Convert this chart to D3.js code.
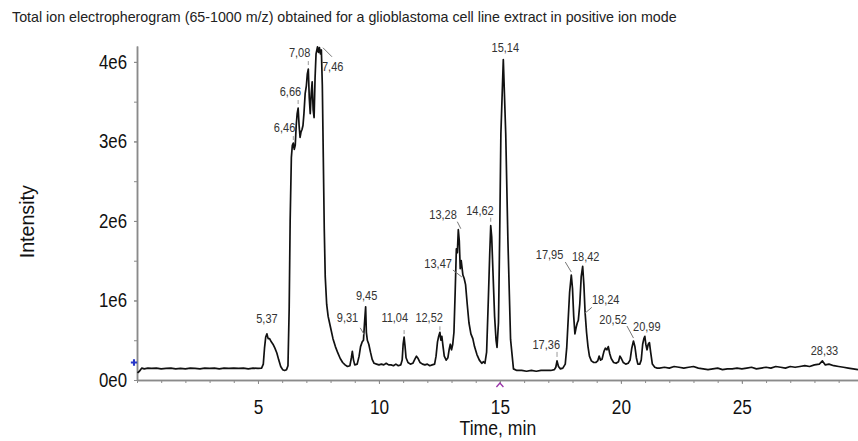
<!DOCTYPE html>
<html><head><meta charset="utf-8">
<script src="https://cdn.jsdelivr.net/npm/d3@7"></script>
<style>
html,body{margin:0;padding:0;background:#fff;}
svg{display:block;font-family:"Liberation Sans",Arial,sans-serif;}
</style></head><body>
<svg id="chart" width="858" height="441"></svg>
<script>
// ---- DATA ----
const chartTitle = "Total ion electropherogram (65-1000 m/z) obtained for a glioblastoma cell line extract in positive ion mode";
const xLabel = "Time, min";
const yLabel = "Intensity";
const xTickValues = [5, 10, 15, 20, 25];
const yTickValues = [0, 1, 2, 3, 4];            // millions
const yTickLabels = ["0e0", "1e6", "2e6", "3e6", "4e6"];

// [time (min), intensity (x1e6)]
const trace = [
[0.02,0.09],[0.1,0.11],[0.2,0.15],[0.3,0.14],[0.45,0.15],[0.6,0.145],[0.8,0.15],[1.0,0.14],[1.2,0.145],[1.4,0.15],[1.6,0.14],[1.8,0.145],[2.0,0.14],[2.2,0.15],[2.4,0.145],[2.6,0.14],[2.8,0.15],[3.0,0.145],[3.2,0.15],[3.4,0.14],[3.6,0.15],[3.8,0.145],[4.0,0.15],[4.2,0.145],[4.4,0.15],[4.6,0.14],[4.8,0.15],[5.0,0.145],[5.15,0.15],
[5.22,0.2],[5.27,0.4],[5.32,0.54],[5.37,0.58],[5.42,0.52],[5.48,0.52],[5.55,0.48],[5.62,0.45],[5.7,0.4],[5.78,0.34],[5.86,0.25],[5.94,0.17],[6.02,0.13],[6.1,0.12],[6.18,0.13],[6.24,0.18],
[6.29,0.9],[6.33,2.0],[6.38,2.8],[6.42,2.95],[6.46,2.98],[6.5,2.9],[6.54,2.95],[6.58,3.2],[6.62,3.35],[6.66,3.42],[6.7,3.2],[6.74,3.05],[6.78,3.12],[6.82,3.15],[6.86,3.2],[6.9,3.35],[6.95,3.6],[7.0,3.7],[7.04,3.85],[7.08,3.91],[7.12,3.55],[7.16,3.35],[7.2,3.6],[7.24,3.75],[7.28,3.4],[7.32,3.3],[7.36,3.8],[7.4,4.1],[7.46,4.19],[7.5,4.12],[7.54,4.18],[7.58,4.1],[7.62,4.15],[7.66,3.7],[7.7,2.8],[7.74,1.9],[7.78,1.3],[7.84,0.95],[7.9,0.8],[8.0,0.66],[8.1,0.52],[8.2,0.42],[8.3,0.34],[8.4,0.27],[8.5,0.22],[8.6,0.19],[8.7,0.17],[8.8,0.18],[8.86,0.28],[8.9,0.36],[8.95,0.25],[9.0,0.19],[9.1,0.2],[9.18,0.3],[9.24,0.42],[9.31,0.48],[9.36,0.5],[9.4,0.7],[9.45,0.92],[9.48,0.6],[9.52,0.5],[9.58,0.45],[9.65,0.35],[9.72,0.26],[9.8,0.21],[9.9,0.2],
[10.0,0.19],[10.1,0.2],[10.2,0.19],[10.3,0.21],[10.4,0.19],[10.5,0.19],[10.6,0.18],[10.7,0.2],[10.8,0.18],[10.9,0.19],[10.96,0.25],[11.0,0.45],[11.04,0.54],[11.08,0.42],[11.12,0.28],[11.2,0.22],[11.3,0.2],[11.4,0.21],[11.48,0.26],[11.55,0.3],[11.62,0.27],[11.7,0.22],[11.8,0.2],[11.9,0.19],[12.0,0.2],[12.1,0.18],[12.2,0.19],[12.3,0.2],[12.36,0.3],[12.42,0.48],[12.47,0.55],[12.52,0.6],[12.56,0.5],[12.6,0.55],[12.65,0.42],[12.7,0.3],[12.78,0.25],[12.85,0.28],[12.9,0.38],[12.95,0.45],[13.0,0.38],[13.05,0.45],[13.1,0.6],[13.15,1.1],[13.2,1.65],[13.24,1.6],[13.28,1.89],[13.32,1.75],[13.36,1.4],[13.4,1.5],[13.47,1.32],[13.52,1.28],[13.58,1.2],[13.65,0.95],[13.72,0.72],[13.8,0.58],[13.88,0.52],[13.95,0.42],[14.05,0.32],[14.15,0.25],[14.25,0.21],[14.32,0.23],[14.38,0.21],[14.45,0.35],[14.52,1.0],[14.58,1.6],[14.62,1.94],[14.66,1.8],[14.72,1.3],[14.78,0.8],[14.84,0.5],[14.88,0.41],[14.94,0.72],[14.99,1.8],[15.04,3.1],[15.14,4.03],[15.24,3.1],[15.33,1.76],[15.44,0.51],[15.56,0.14],
[15.7,0.12],[15.9,0.12],[16.1,0.11],[16.3,0.12],[16.5,0.11],[16.7,0.12],[16.9,0.12],[17.1,0.12],[17.25,0.13],[17.31,0.16],[17.36,0.24],[17.42,0.17],[17.5,0.14],[17.6,0.15],[17.7,0.2],[17.76,0.4],[17.82,0.75],[17.88,1.1],[17.95,1.32],[18.0,1.15],[18.05,0.8],[18.1,0.58],[18.15,0.66],[18.2,0.72],[18.24,0.75],[18.3,0.95],[18.36,1.3],[18.42,1.43],[18.47,1.2],[18.52,0.85],[18.58,0.6],[18.64,0.42],[18.7,0.3],[18.78,0.24],[18.88,0.22],[18.96,0.22],[19.04,0.24],[19.1,0.3],[19.16,0.25],[19.22,0.26],[19.3,0.36],[19.36,0.4],[19.42,0.38],[19.48,0.42],[19.54,0.33],[19.6,0.27],[19.7,0.22],[19.8,0.21],[19.9,0.23],[19.96,0.3],[20.02,0.27],[20.1,0.22],[20.2,0.2],[20.3,0.21],[20.38,0.25],[20.45,0.4],[20.52,0.49],[20.58,0.42],[20.64,0.28],[20.7,0.2],[20.78,0.2],[20.84,0.25],[20.9,0.45],[20.95,0.52],[20.99,0.55],[21.03,0.45],[21.08,0.38],[21.13,0.45],[21.18,0.47],[21.23,0.35],[21.3,0.2],[21.4,0.16],[21.5,0.15],
[21.6,0.15],[21.8,0.16],[22.0,0.15],[22.2,0.17],[22.4,0.16],[22.6,0.15],[22.8,0.16],[23.0,0.17],[23.2,0.15],[23.4,0.14],[23.6,0.13],[23.8,0.14],[24.0,0.15],[24.2,0.13],[24.4,0.14],[24.6,0.14],[24.8,0.15],[25.0,0.14],[25.2,0.15],[25.4,0.16],[25.6,0.14],[25.8,0.15],[26.0,0.16],[26.2,0.15],[26.4,0.17],[26.6,0.16],[26.8,0.15],[27.0,0.17],[27.2,0.16],[27.4,0.17],[27.6,0.18],[27.8,0.17],[28.0,0.19],[28.2,0.2],[28.33,0.24],[28.45,0.19],[28.6,0.2],[28.8,0.18],[29.0,0.17],[29.2,0.16],[29.4,0.15],[29.6,0.14],[29.8,0.13]
];

const peakLabels = ["5,37","6,46","6,66","7,08","7,46","9,31","9,45","11,04","12,52","13,28","13,47","14,62","15,14","17,36","17,95","18,42","18,24","20,52","20,99","28,33"];
const peakTimes  = [5.37,6.46,6.66,7.08,7.46,9.31,9.45,11.04,12.52,13.28,13.47,14.62,15.14,17.36,17.95,18.42,18.24,20.52,20.99,28.33];
const peakValues = [0.58,2.98,3.42,3.91,4.19,0.48,0.92,0.54,0.6,1.89,1.32,1.94,4.03,0.24,1.32,1.43,0.75,0.49,0.55,0.24];

// ---- LAYOUT (label placement, pixels relative to peak) ----
const labelLayout = [
 {anchor:"middle", dx:0, dy:-11},
 {anchor:"end", dx:2, dy:-11, tick:[-7,-3]},
 {anchor:"end", dx:3, dy:-12, tick:[-8,-4]},
 {anchor:"end", dx:2, dy:-12, tick:[-8,-4]},
 {anchor:"start", dx:4.5, dy:24, leader:[5.5,1,14.5,10]},
 {anchor:"end", dx:-4, dy:-20, leader:[-2,-14,2,-7]},
 {anchor:"middle", dx:1, dy:-7},
 {anchor:"end", dx:4, dy:-15, tick:[-7,-3]},
 {anchor:"end", dx:3, dy:-10, tick:[-6,-2]},
 {anchor:"end", dx:-1.5, dy:-10.7, leader:[-1,-8,2.5,-1]},
 {anchor:"end", dx:-11, dy:-7, leader:[-10,-5,-1,2]},
 {anchor:"end", dx:3, dy:-11, tick:[-8,-4]},
 {anchor:"middle", dx:2, dy:-8},
 {anchor:"end", dx:3, dy:-12, tick:[-9,-4]},
 {anchor:"end", dx:-8, dy:-16, leader:[-6,-13,0,-3]},
 {anchor:"middle", dx:3, dy:-5},
 {anchor:"start", dx:13.6, dy:-16, leader:[13.5,-13,6.5,-7]},
 {anchor:"end", dx:-6.6, dy:-17, leader:[-6.5,-15,0,-3]},
 {anchor:"middle", dx:2, dy:-5},
 {anchor:"middle", dx:2, dy:-6}
];

// ---- CHART ----
const svg = d3.select("#chart");
const x = d3.scaleLinear().domain([0, 29.8]).range([137, 858]);
const y = d3.scaleLinear().domain([0, 4.2]).range([380, 46]);
const axisColor = "#8a8a8a";

// narrow the glyphs horizontally (reference text is condensed)
function condense(sel, k) {
  sel.each(function () {
    const w = this.getComputedTextLength();
    d3.select(this).attr("textLength", w * k).attr("lengthAdjust", "spacingAndGlyphs");
  });
}

const title = svg.append("text").attr("x", 12).attr("y", 22).attr("font-size", 15).attr("fill", "#222").text(chartTitle);
condense(title, 0.95);

// x axis: minor ticks each minute, labelled major ticks
const gxMinor = svg.append("g").attr("transform", "translate(0,380)")
  .call(d3.axisBottom(x).tickValues(x.ticks(30)).tickSizeInner(3).tickSizeOuter(0).tickFormat(""));
const gx = svg.append("g").attr("transform", "translate(0,380)")
  .call(d3.axisBottom(x).tickValues(xTickValues).tickSizeInner(4).tickSizeOuter(0).tickPadding(16));
[gxMinor, gx].forEach(g => {
  g.select(".domain").attr("stroke", axisColor).attr("stroke-width", 1.5);
  g.selectAll(".tick line").attr("stroke", axisColor);
});
gx.selectAll(".tick text").attr("font-size", 20).attr("fill", "#111").attr("font-family", "Liberation Sans, Arial, sans-serif");
condense(gx.selectAll(".tick text"), 0.86);

// y axis
const gyMinor = svg.append("g").attr("transform", "translate(137,0)")
  .call(d3.axisLeft(y).tickValues(y.ticks(8)).tickSizeInner(3).tickSizeOuter(0).tickFormat(""));
const gy = svg.append("g").attr("transform", "translate(137,0)")
  .call(d3.axisLeft(y).tickValues(yTickValues).tickSizeInner(3).tickSizeOuter(0).tickPadding(7)
    .tickFormat((d, i) => yTickLabels[i]));
[gyMinor, gy].forEach(g => {
  g.select(".domain").attr("stroke", axisColor).attr("stroke-width", 1.5);
  g.selectAll(".tick line").attr("stroke", axisColor);
});
gy.selectAll(".tick text").attr("font-size", 20).attr("fill", "#111").attr("font-family", "Liberation Sans, Arial, sans-serif");
condense(gy.selectAll(".tick text"), 0.84);

// axis titles
const xt = svg.append("text").attr("x", x(15) - 2).attr("y", 435).attr("text-anchor", "middle")
  .attr("font-size", 20).attr("fill", "#111").text(xLabel);
condense(xt, 0.88);
const yt = svg.append("text").attr("transform", `translate(34,${y(1.99)}) rotate(-90)`).attr("text-anchor", "middle")
  .attr("font-size", 20).attr("fill", "#111").text(yLabel);
condense(yt, 0.98);

// trace
const line = d3.line().x(d => x(d[0])).y(d => y(d[1]));
svg.append("path").datum(trace).attr("d", line).attr("fill", "none")
  .attr("stroke", "#111").attr("stroke-width", 1.7).attr("stroke-linejoin", "round");

// peak annotations
const gl = svg.append("g");
peakLabels.forEach((lab, i) => {
  const px = x(peakTimes[i]), py = y(peakValues[i]);
  const L = labelLayout[i];
  if (L.tick) gl.append("line").attr("x1", px).attr("x2", px).attr("y1", py + L.tick[0]).attr("y2", py + L.tick[1])
    .attr("stroke", "#999").attr("stroke-width", 1);
  if (L.leader) gl.append("line").attr("x1", px + L.leader[0]).attr("y1", py + L.leader[1])
    .attr("x2", px + L.leader[2]).attr("y2", py + L.leader[3]).attr("stroke", "#777").attr("stroke-width", 1);
  const t = gl.append("text").attr("x", px + L.dx).attr("y", py + L.dy).attr("text-anchor", L.anchor)
    .attr("font-size", 12.5).attr("fill", "#333").text(lab);
  condense(t, 0.88);
});

// cursor markers
svg.append("path").attr("d", d3.symbol(d3.symbolCross, 22)())
  .attr("transform", `translate(${x(0) - 3},${y(0.22)})`).attr("fill", "#2636c8");
svg.append("path").attr("d", "M-3.5,3 L0,-1 L3.5,3")
  .attr("transform", `translate(${x(15)},384)`).attr("fill", "none").attr("stroke", "#9932a8").attr("stroke-width", 1.3);
</script>
</body></html>
